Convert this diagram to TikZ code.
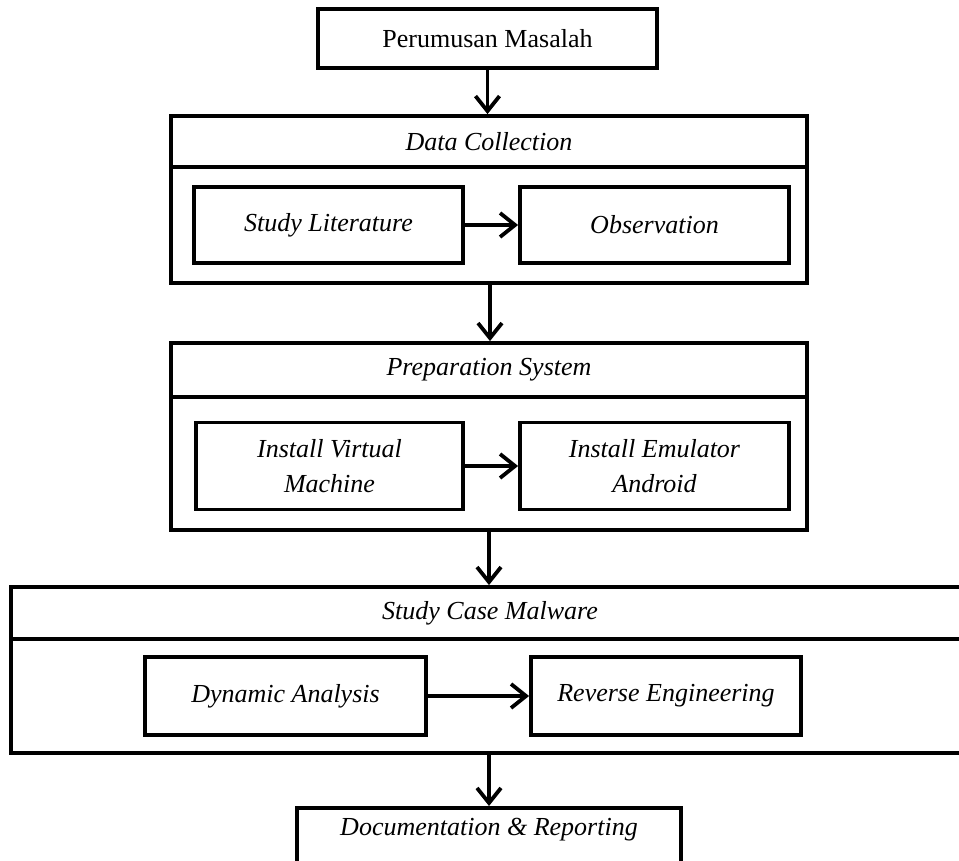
\documentclass[tikz,border=0pt]{standalone}
\usepackage{fontspec}
\setmainfont{Liberation Serif}
\usetikzlibrary{arrows.meta}
\begin{document}
\begin{tikzpicture}[x=1pt,y=-1pt,
  box/.style={draw, line width=3.8pt, rectangle, inner sep=0pt, align=center,
    font=\fontsize{26}{35}\selectfont\itshape},
  flow/.style={line width=3.8pt, -{Straight Barb[length=15pt,width=24pt,line width=3.8pt]}}]
\useasboundingbox (0,0) rectangle (959,861);
\clip (0,0) rectangle (959,861);
% top
\node[box, font=\fontsize{26}{35}\selectfont, minimum width=339pt, minimum height=59pt] (pm) at (487.5,38.5) {Perumusan Masalah};
% Data Collection
\node[box, minimum width=636pt, minimum height=116pt] (dcb) at (489,225) {};
\node[box, minimum width=636pt, minimum height=51pt] (dch) at (489,141.5) {Data Collection};
\node[box, minimum width=269pt, minimum height=76pt] (sl) at (328.5,225) {Study Literature};
\node[box, minimum width=269pt, minimum height=76pt] (ob) at (654.5,225) {Observation};
% Preparation System
\node[box, minimum width=636pt, minimum height=133pt] (psb) at (489,463.5) {};
\node[box, minimum width=636pt, minimum height=54pt] (psh) at (489,370) {Preparation System};
\node[box, minimum width=267pt, minimum height=87pt] (ivm) at (329.5,466) {Install Virtual\\Machine};
\node[box, minimum width=269pt, minimum height=87pt] (iea) at (654.5,466) {Install Emulator\\Android};
% Study Case Malware
\node[box, minimum width=958pt, minimum height=114pt] (scb) at (490,696) {};
\node[box, minimum width=958pt, minimum height=52pt] (sch) at (490,613) {Study Case Malware};
\node[box, minimum width=281pt, minimum height=78pt] (da) at (285.5,696) {Dynamic Analysis};
\node[box, minimum width=270pt, minimum height=78pt] (re) at (666,696) {Reverse Engineering};
% Documentation
\node[box, anchor=north, minimum width=384pt, inner ysep=10pt, text height=18pt, text depth=54pt] (doc) at (489,806) {Documentation \& Reporting};
% connectors
\draw[flow] (pm.south) -- (pm.south |- dch.north);
\draw[flow] ([xshift=1pt]dcb.south) -- ([xshift=1pt]dcb.south |- psh.north);
\draw[flow] (psb.south) -- (psb.south |- sch.north);
\draw[flow] ([xshift=-1pt]scb.south) -- ([xshift=-1pt]scb.south |- doc.north);
\draw[flow] (sl.east) -- (ob.west);
\draw[flow] (ivm.east) -- (iea.west);
\draw[flow] (da.east) -- (re.west);
\end{tikzpicture}
\end{document}
